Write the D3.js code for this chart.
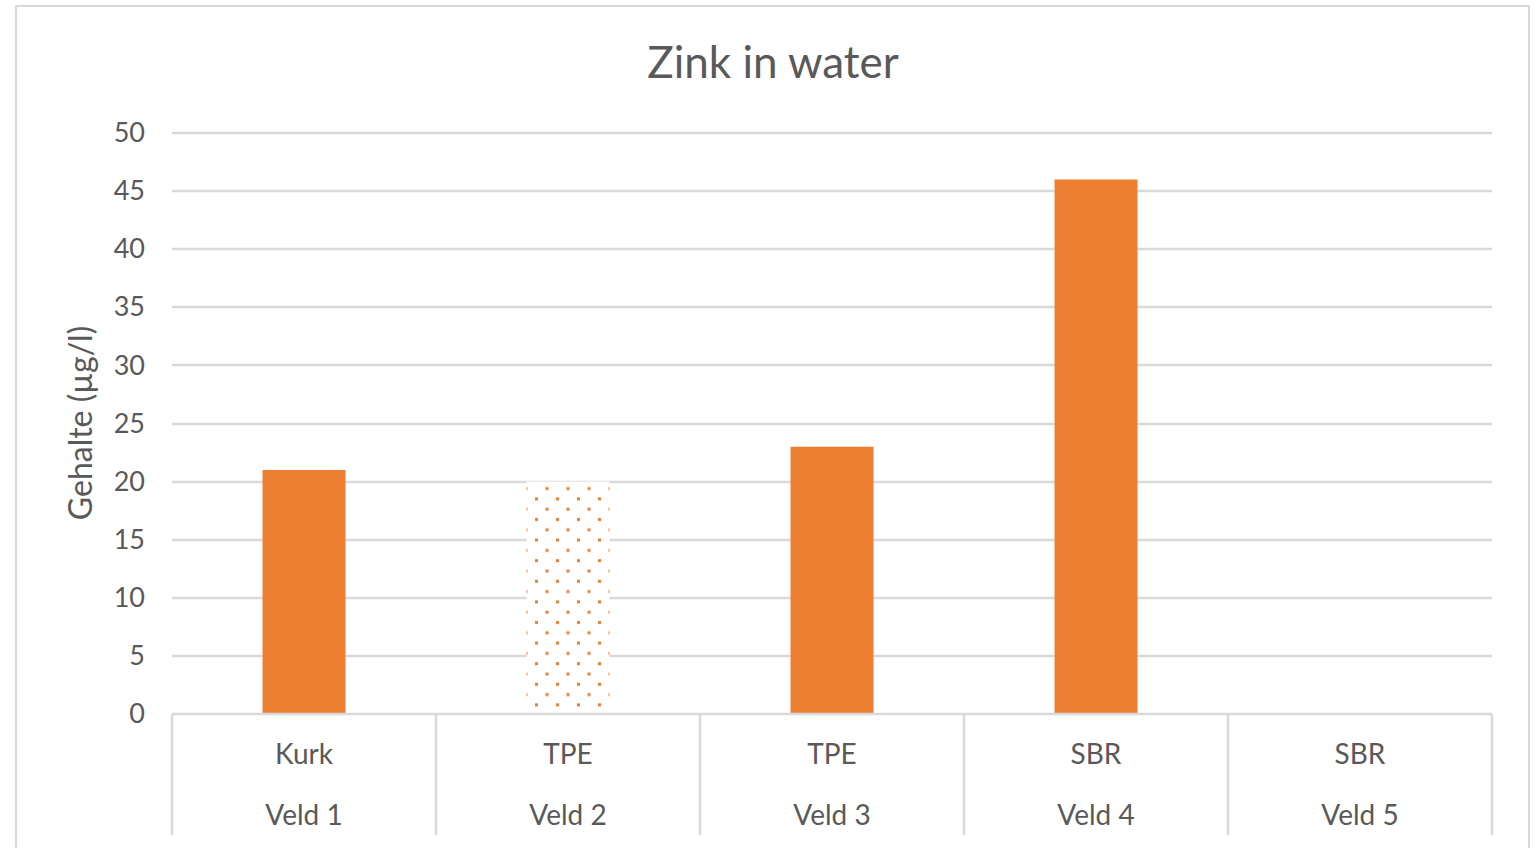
<!DOCTYPE html>
<html>
<head>
<meta charset="utf-8">
<script src="https://cdn.jsdelivr.net/npm/d3@7"></script>
<style>
body { margin:0; background:#fff; }
text { font-family: Lato, 'Open Sans', sans-serif; fill:#595959; }
</style>
</head>
<body>
<div id="chart"></div>
<script>
// data
var fields = ['Veld 1', 'Veld 2', 'Veld 3', 'Veld 4', 'Veld 5'];
var materials = ['Kurk', 'TPE', 'TPE', 'SBR', 'SBR'];
var zinc = [21, 20, 23, 46, null];
var yTicks = [0, 5, 10, 15, 20, 25, 30, 35, 40, 45, 50];
// fields drawn with the dotted fill
var dotted = ['Veld 2'];

var svpWidth = 1540;
var svpHeight = 848;
var margin = {top:133, right:48, bottom:134, left:172};
var width = svpWidth-margin.left-margin.right;
var height = svpHeight-margin.top-margin.bottom;
var grey = '#d9d9d9';
var orange = '#ed7d31';

var root = d3.select('#chart')
	.append('svg')
	.attr('width', svpWidth)
	.attr('height', svpHeight);

// dot pattern
var pat = root.append('defs').append('pattern')
	.attr('id', 'dots')
	.attr('patternUnits', 'userSpaceOnUse')
	.attr('width', 21)
	.attr('height', 20.6)
	.attr('x', 527)
	.attr('y', 484);
pat.append('rect').attr('width', 21).attr('height', 20.6).attr('fill', '#fff');
pat.append('rect').attr('x', 4).attr('y', 4).attr('width', 3).attr('height', 3).attr('fill', orange);
pat.append('rect').attr('x', 14.5).attr('y', 14.3).attr('width', 3).attr('height', 3).attr('fill', orange);

// chart border
root.append('rect')
	.attr('x', 16).attr('y', 6)
	.attr('width', 1513).attr('height', 900)
	.attr('fill', 'none')
	.attr('stroke', grey)
	.attr('stroke-width', 2);

var svg = root.append('g')
	.attr('transform', 'translate('+margin.left+','+margin.top+')');

var data = fields.map(function (f, i) {
	return {field: f, material: materials[i], value: zinc[i]};
});

var x = d3.scaleBand()
	.domain(fields)
	.range([0, width])
	.paddingInner(0.686)
	.paddingOuter(0.343);
var xOuter = d3.scaleBand().domain(fields).range([0, width]);

var y = d3.scaleLinear()
	.domain([0, 50])
	.range([height, 0]);

// gridlines
svg.append('g')
	.selectAll('line')
	.data(yTicks.slice(1))
	.enter()
	.append('line')
	.attr('x1', 0).attr('x2', width)
	.attr('y1', d=>Math.round(y(d))).attr('y2', d=>Math.round(y(d)))
	.attr('stroke', grey)
	.attr('stroke-width', 2.5);

// y-axis labels
var yAxis = svg.append('g')
	.call(d3.axisLeft(y).tickValues(yTicks).tickSize(0).tickPadding(27));
yAxis.select('.domain').remove();
yAxis.selectAll('text')
	.style('font-size', '27px')
	.attr('fill', '#595959');

// bars
svg.append('g')
	.selectAll('rect')
	.data(data.filter(d=>d.value != null))
	.enter()
	.append('rect')
	.attr('x', d=>x(d.field))
	.attr('width', x.bandwidth())
	.attr('y', d=>y(d.value))
	.attr('height', d=>height-y(d.value))
	.attr('fill', d=>dotted.indexOf(d.field) >= 0 ? 'url(#dots)' : orange);

// x-axis line and category separators
svg.append('line')
	.attr('x1', 0).attr('x2', width)
	.attr('y1', height).attr('y2', height)
	.attr('stroke', grey).attr('stroke-width', 2.5);
var seps = fields.map(f=>xOuter(f)).concat([width]);
svg.append('g')
	.selectAll('line')
	.data(seps)
	.enter()
	.append('line')
	.attr('x1', d=>d).attr('x2', d=>d)
	.attr('y1', height).attr('y2', height+121)
	.attr('stroke', grey).attr('stroke-width', 2.5);

// category labels
var cats = svg.append('g')
	.selectAll('g')
	.data(data)
	.enter()
	.append('g')
	.attr('transform', d=>'translate('+(xOuter(d.field)+xOuter.bandwidth()/2)+','+height+')');
cats.append('text')
	.attr('text-anchor', 'middle')
	.attr('y', 50)
	.style('font-size', '28px')
	.text(d=>d.material);
cats.append('text')
	.attr('text-anchor', 'middle')
	.attr('y', 111)
	.style('font-size', '28px')
	.text(d=>d.field);

// title
root.append('text')
	.attr('text-anchor', 'middle')
	.attr('x', 773)
	.attr('y', 78)
	.style('font-size', '44px')
	.text('Zink in water');

// y-axis title
root.append('text')
	.attr('text-anchor', 'middle')
	.attr('transform', 'translate(92,423) rotate(-90)')
	.style('font-size', '32px')
	.text('Gehalte (µg/l)');
</script>
</body>
</html>
